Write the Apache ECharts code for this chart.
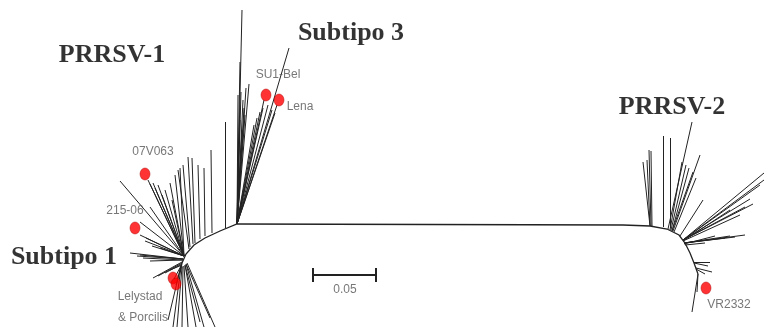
<!DOCTYPE html>
<html>
<head>
<meta charset="utf-8">
<style>
  html, body { margin: 0; padding: 0; background: #fff; }
  #tree { width: 764px; height: 327px; }
</style>
<script src="https://cdn.jsdelivr.net/npm/echarts/dist/echarts.min.js"></script>
</head>
<body>
<div id="tree"></div>
<script>
// tree drawn in a plain x/y layout space (x: 0..764, y: 0..327 top-down)

// long internal branch with the two curved hubs
const backbone = [[180, 272], [182, 263], [186, 254], [194, 245], [205, 238], [220, 231], [237, 224],
  [623, 225], [650, 226], [667, 229], [679, 235], [685, 243], [690, 253], [694, 263], [698, 274]]

// branches [x1, y1, x2, y2]
const subtype3Branches = [
  [237, 224, 242, 10], [237, 224, 240, 62], [237, 224, 238, 95], [237, 224, 241, 92],
  [237, 224, 243, 100], [237, 224, 246, 88], [237, 224, 249, 84], [237, 224, 244, 108],
  [237, 224, 240, 120], [237, 224, 289, 48], [237, 224, 268, 105], [237, 224, 272, 110],
  [237, 224, 275, 113], [237, 224, 263, 108], [237, 224, 260, 112], [237, 224, 257, 118],
  [237, 224, 254, 125], [237, 224, 264, 100], [237, 224, 277, 105], [237, 224, 242, 130],
  [237, 224, 245, 115]
]
const subtype1Branches = [
  [225, 228, 225, 122], [212, 233, 211, 150], [205, 236, 204, 168], [200, 239, 198, 165],
  [195, 243, 192, 158], [193, 244, 188, 157], [190, 247, 183, 165], [189, 249, 178, 170],
  [184, 256, 120, 181], [184, 256, 148, 180], [184, 256, 153, 183], [184, 256, 158, 185],
  [184, 256, 165, 190], [184, 256, 170, 183], [184, 256, 175, 175], [184, 256, 180, 168],
  [184, 256, 150, 184], [184, 256, 155, 188], [184, 256, 162, 195], [184, 256, 172, 200],
  [184, 256, 150, 207], [184, 256, 140, 222], [184, 256, 140, 235], [184, 256, 145, 241],
  [184, 256, 152, 246], [184, 256, 160, 248], [184, 256, 146, 238],
  [183, 259, 130, 253], [183, 259, 137, 256], [183, 260, 143, 258], [183, 260, 150, 261],
  [183, 259, 140, 255],
  [182, 262, 153, 278], [182, 263, 158, 276], [182, 264, 165, 273], [182, 265, 170, 270],
  [181, 266, 174, 279], [181, 266, 176, 285],
  [181, 266, 168, 320], [181, 267, 173, 327], [182, 267, 177, 327], [183, 266, 182, 327],
  [184, 266, 188, 327], [185, 265, 196, 327], [186, 264, 204, 327], [187, 263, 215, 327],
  [186, 264, 210, 318], [185, 265, 200, 322]
]
const prrsv2Branches = [
  [650, 226, 643, 162], [650, 226, 647, 160], [651, 226, 649, 150], [652, 226, 651, 151],
  [663, 227, 663, 136], [670, 228, 670, 138],
  [668, 229, 692, 122], [670, 230, 682, 162], [671, 230, 686, 165], [672, 231, 689, 168],
  [672, 231, 693, 172], [673, 231, 700, 155], [674, 232, 696, 178], [680, 236, 703, 200],
  [683, 240, 764, 173], [683, 240, 764, 180], [683, 240, 750, 199], [683, 240, 753, 204],
  [683, 240, 745, 207], [683, 241, 740, 215], [683, 240, 760, 185], [683, 241, 730, 210],
  [684, 243, 745, 235], [684, 243, 735, 237], [684, 243, 725, 238], [684, 244, 715, 236],
  [685, 245, 705, 243], [684, 243, 730, 236],
  [694, 262, 710, 262], [694, 263, 708, 266], [696, 268, 712, 272], [696, 269, 705, 274],
  [698, 274, 692, 312], [698, 274, 697, 292]
]

// reference isolates (red dots)
const isolateXY = [[145, 174], [135, 228], [173, 278], [176, 284], [266, 95], [279, 100], [706, 288]]

// tip labels and where they sit
const tipLabels = ['07V063', '215-06', 'Lelystad', '& Porcilis', 'SU1-Bel', 'Lena', 'VR2332']
const tipLabelXY = [[153, 152], [125, 211], [140, 297], [143, 318], [278, 75], [300, 107], [729, 305]]

// group labels
const cladeLabels = ['PRRSV-1', 'Subtipo 3', 'PRRSV-2', 'Subtipo 1']
const cladeLabelXY = [[112, 55], [351, 33], [672, 107], [64, 257]]

// scale bar
const scaleBarLabel = '0.05'
const scaleBar = [313, 376, 275]

const chart = echarts.init(document.getElementById('tree'))

const toLines = arr => arr.map(b => ({ coords: [[b[0], b[1]], [b[2], b[3]]] }))
const toText = (names, xy) => names.map((n, i) => ({ name: n, value: xy[i] }))

const branchStyle = { color: '#222', width: 1, opacity: 1 }

const option = {
  animation: false,
  grid: { left: 0, right: 0, top: 0, bottom: 0 },
  xAxis: { type: 'value', min: 0, max: 764, show: false },
  yAxis: { type: 'value', min: 0, max: 327, inverse: true, show: false },
  series: [
    {
      type: 'lines',
      coordinateSystem: 'cartesian2d',
      polyline: true,
      lineStyle: { color: '#222', width: 1.3, opacity: 1 },
      data: [{ coords: backbone }]
    },
    {
      type: 'lines',
      coordinateSystem: 'cartesian2d',
      lineStyle: branchStyle,
      data: toLines(subtype3Branches.concat(subtype1Branches, prrsv2Branches))
    },
    {
      type: 'lines',
      coordinateSystem: 'cartesian2d',
      lineStyle: { color: '#222', width: 2, opacity: 1 },
      data: toLines([
        [scaleBar[0], scaleBar[2], scaleBar[1], scaleBar[2]],
        [scaleBar[0], scaleBar[2] - 7, scaleBar[0], scaleBar[2] + 7],
        [scaleBar[1], scaleBar[2] - 7, scaleBar[1], scaleBar[2] + 7]
      ])
    },
    {
      type: 'scatter',
      symbol: 'circle',
      symbolSize: [10, 12],
      itemStyle: { color: '#ff0000', borderColor: '#b00000', borderWidth: 0.6 },
      data: isolateXY,
      z: 5
    },
    {
      type: 'scatter',
      symbolSize: 0.1,
      itemStyle: { color: 'transparent' },
      label: {
        show: true,
        position: 'inside',
        formatter: p => p.name,
        fontFamily: 'Liberation Sans',
        fontSize: 12,
        color: '#555',
        textBorderWidth: 0
      },
      data: toText(tipLabels, tipLabelXY).concat([{ name: scaleBarLabel, value: [345, 290] }]),
      z: 6
    },
    {
      type: 'scatter',
      symbolSize: 0.1,
      itemStyle: { color: 'transparent' },
      label: {
        show: true,
        position: 'inside',
        formatter: p => p.name,
        fontFamily: 'Liberation Serif',
        fontWeight: 'bold',
        fontSize: 26,
        color: '#000',
        textBorderWidth: 0
      },
      data: toText(cladeLabels, cladeLabelXY),
      z: 6
    }
  ]
}

chart.setOption(option)
</script>
</body>
</html>
